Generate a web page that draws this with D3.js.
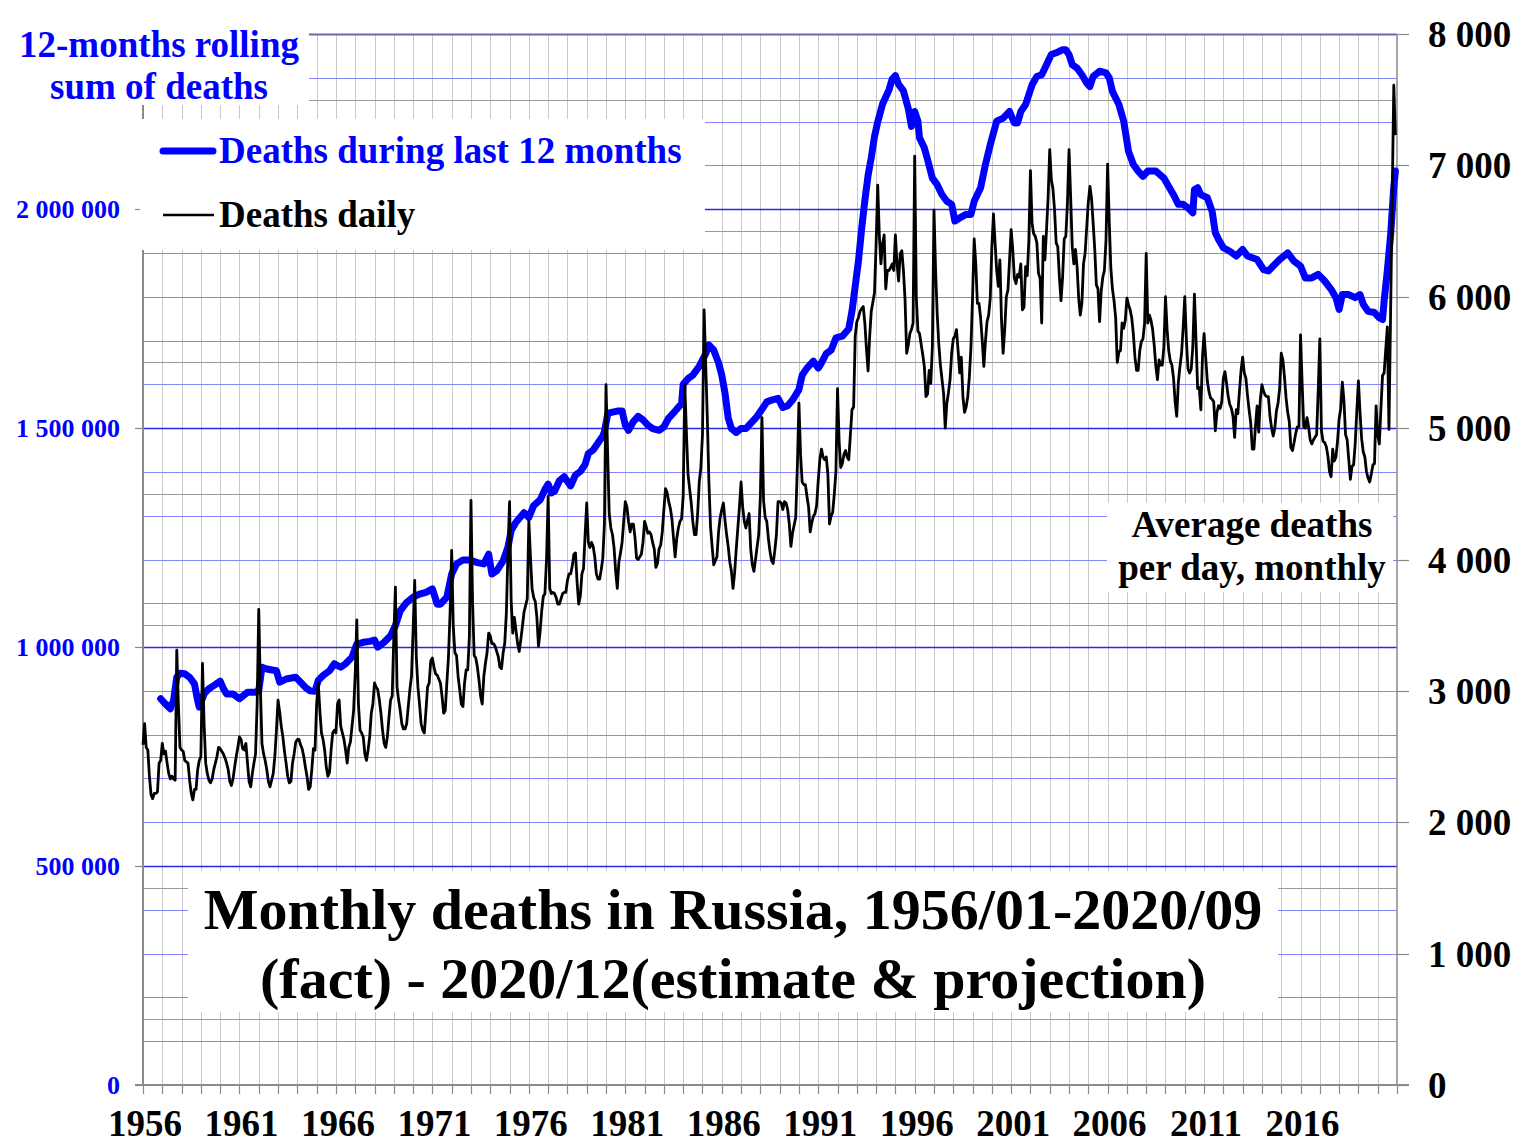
<!DOCTYPE html>
<html><head><meta charset="utf-8">
<script src="https://cdn.jsdelivr.net/npm/d3@7"></script>
<style>
body{margin:0;background:#fff}
svg{display:block}
text{font-family:"Liberation Serif","Times New Roman",serif;font-weight:bold}
</style>
</head><body>
<svg id="chart" width="1517" height="1145"></svg>
<script>
// ---- tick labels ----
const yearLabels = ["1956","1961","1966","1971","1976","1981","1986","1991","1996","2001","2006","2011","2016"];
const leftTicks = [0, 500000, 1000000, 1500000, 2000000];
const rightTicks = [0, 1000, 2000, 3000, 4000, 5000, 6000, 7000, 8000];

// ---- average deaths per day, monthly (one row = one year, Jan..Dec) ----
const daily1956_1965 = [
 2590,2750,2570,2550,2350,2210,2180,2220,2220,2230,2450,2470,
 2600,2520,2540,2450,2370,2330,2350,2330,2320,3310,2900,2570,
 2550,2540,2470,2460,2450,2320,2220,2170,2250,2250,2400,2470,
 2500,3210,2750,2450,2370,2320,2300,2330,2400,2450,2500,2570,
 2560,2540,2520,2490,2450,2400,2310,2280,2330,2420,2500,2570,
 2650,2630,2560,2550,2600,2450,2310,2270,2370,2450,2520,2900,
 3620,3030,2600,2520,2470,2400,2310,2270,2320,2370,2500,2700,
 2930,2840,2730,2650,2540,2450,2350,2300,2310,2450,2520,2610,
 2630,2630,2590,2560,2500,2420,2350,2250,2270,2400,2560,2550,
 2900,3060,2850,2680,2630,2550,2420,2350,2380,2550,2680,2700];
const daily1966_1975 = [
 2680,2900,2930,2730,2680,2630,2550,2450,2570,2610,2730,2850,
 3130,3540,2900,2700,2680,2650,2520,2470,2550,2650,2830,2900,
 3060,3030,3010,2930,2830,2700,2600,2570,2650,2800,2930,2960,
 3410,3790,3030,2930,2850,2750,2710,2710,2750,2880,3010,3110,
 3460,3840,3260,3030,2900,2750,2700,2680,2850,3030,3060,3230,
 3250,3180,3130,3120,3090,3060,2960,2830,2850,3060,3260,3590,
 4070,3490,3290,3270,3110,3010,2900,2880,3060,3160,3160,3410,
 4450,3670,3270,3250,3180,3080,2960,2900,3110,3210,3290,3440,
 3420,3360,3360,3340,3300,3260,3180,3170,3290,3360,3590,4050,
 4440,3690,3440,3560,3460,3360,3300,3390,3490,3600,3650,3700];
const daily1976_1985 = [
 4290,4020,3780,3710,3680,3560,3340,3450,3610,3720,3740,4000,
 4480,3780,3740,3750,3740,3710,3660,3660,3700,3740,3750,3750,
 3840,3890,3890,3950,4040,4050,3830,3660,3720,3890,3930,4190,
 4430,4130,4090,4130,4100,4020,3890,3850,3850,3920,4010,4270,
 5330,4810,4350,4240,4190,4090,3910,3780,3980,4050,4130,4290,
 4440,4400,4290,4210,4270,4270,4170,4010,4000,4020,4040,4130,
 4290,4250,4200,4210,4190,4130,4080,3940,3970,4080,4110,4210,
 4380,4540,4510,4440,4390,4310,4160,4020,4160,4240,4290,4310,
 4480,5330,4970,4650,4540,4430,4290,4190,4190,4350,4590,4700,
 4950,5900,5490,5080,4590,4250,4100,3960,3990,4020,4210,4320];
const daily1986_1995 = [
 4380,4430,4300,4190,4100,3980,3910,3780,3900,4080,4240,4400,
 4590,4400,4290,4240,4300,4350,4080,3960,3910,4000,4100,4190,
 4480,5080,4450,4320,4290,4160,4060,3990,3970,4070,4190,4440,
 4440,4430,4380,4440,4430,4380,4270,4100,4200,4260,4320,4700,
 5190,4800,4590,4570,4570,4480,4400,4210,4280,4330,4350,4410,
 4600,4760,4840,4780,4760,4780,4650,4270,4330,4360,4500,4670,
 5300,4900,4700,4730,4800,4830,4780,4760,4950,5140,5160,5700,
 5810,5840,5890,5910,5925,5800,5600,5435,5700,5890,5960,6030,
 6400,6850,6470,6250,6400,6470,6060,6200,6200,6220,6250,6200,
 6470,6250,6120,6330,6350,6200,5980,5570,5630,5720,5750,5800];
const daily1996_2005 = [
 7070,6000,5740,5720,5640,5560,5470,5240,5260,5440,5340,5620,
 6660,6200,5870,5640,5480,5370,5260,5000,5190,5270,5370,5570,
 5680,5700,5750,5590,5420,5540,5240,5120,5160,5240,5390,5620,
 6000,6440,6250,5950,5950,5840,5670,5470,5660,5810,5860,5990,
 6380,6630,6410,6200,6080,6280,5820,5570,5750,6000,6050,6280,
 6510,6360,6140,6100,6170,6150,6250,5900,5920,6230,6160,6430,
 6960,6560,6480,6460,6410,6180,6140,5800,6460,6280,6510,6760,
 7120,6890,6820,6660,6410,6380,6150,5970,6150,6440,6460,6710,
 7120,6760,6380,6250,6360,6230,5990,5860,5950,6250,6330,6530,
 6720,6840,6750,6560,6360,6090,6060,5810,6040,6150,6200,6430];
const daily2006_2015 = [
 7010,6580,6220,6060,5970,5840,5500,5580,5590,5800,5760,5820,
 5990,5940,5900,5840,5720,5540,5440,5440,5590,5660,5680,5800,
 6330,5800,5860,5820,5750,5630,5470,5370,5520,5480,5480,5620,
 6000,5750,5590,5510,5480,5380,5200,5090,5350,5470,5570,5770,
 6000,5670,5450,5420,5450,5620,6020,5670,5300,5310,5140,5540,
 5720,5540,5360,5280,5230,5220,5200,4980,5120,5170,5150,5200,
 5380,5430,5340,5240,5180,5150,5090,4930,5140,5110,5280,5440,
 5540,5420,5380,5250,5140,5040,4840,4840,5020,5170,4970,5220,
 5330,5280,5250,5240,5240,5090,5000,4940,5000,5130,5190,5300,
 5570,5520,5390,5230,5120,5050,4850,4830,4890,4960,5010,5010];
const daily2016_2020 = [
 5710,5340,5010,5000,5080,5010,4910,4880,4910,4930,4950,5290,
 5680,4980,4900,4890,4860,4790,4670,4630,4840,4750,4780,4900,
 5070,5150,5350,5210,4950,4910,4760,4610,4710,4720,4880,5130,
 5360,5120,4920,4820,4780,4670,4620,4590,4650,4720,4730,5170,
 4950,4880,5150,5400,5420,5600,5770,4990,5860,6740,7610,7230];

// ---- 12-month rolling sum of deaths (thousands), read at these months ----
const rollMonths = [
 "1956-12","1957-03","1957-06","1957-08","1957-10","1957-12","1958-03","1958-06","1958-09","1958-11","1958-12",
 "1959-03","1959-06","1959-09","1960-01","1960-03","1960-05","1960-09","1961-01","1961-06","1961-11",
 "1962-01","1962-03","1962-06","1962-12","1963-02","1963-06","1963-12","1964-03","1964-06","1964-09","1964-12",
 "1965-02","1965-05","1965-09","1965-12","1966-04","1966-07","1966-11","1967-02","1967-06","1967-10",
 "1968-01","1968-03","1968-07","1968-11","1969-02","1969-05","1969-09","1970-01","1970-05","1970-09",
 "1971-01","1971-04","1971-06","1971-10","1972-01","1972-04","1972-08","1972-12","1973-05","1973-09","1973-12",
 "1974-02","1974-05","1974-09","1974-12","1975-02","1975-05","1975-10","1976-01","1976-04","1976-08","1976-11",
 "1977-01","1977-03","1977-05","1977-08","1977-11","1978-03","1978-06","1978-09","1978-12",
 "1979-02","1979-05","1979-08","1979-11","1979-12","1980-02","1980-03","1980-08","1980-11",
 "1981-01","1981-03","1981-06","1981-09","1981-12","1982-03","1982-06","1982-10",
 "1983-01","1983-04","1983-08","1983-12","1984-01","1984-04","1984-07","1984-11",
 "1985-03","1985-05","1985-08","1985-11","1986-01","1986-03","1986-05","1986-07","1986-10",
 "1987-01","1987-04","1987-08","1987-11","1988-02","1988-05","1988-08","1988-12",
 "1989-03","1989-06","1989-09","1990-01","1990-03","1990-06","1990-10",
 "1991-01","1991-03","1991-06","1991-09","1991-12","1992-04","1992-08","1992-10","1992-12",
 "1993-02","1993-04","1993-06","1993-08","1993-10","1993-12","1994-02","1994-05","1994-09","1994-11",
 "1995-01","1995-03","1995-06","1995-09","1995-11","1996-01","1996-03","1996-04","1996-07","1996-09","1996-12",
 "1997-03","1997-06","1997-09","1997-12","1998-02","1998-05","1998-09","1998-12",
 "1999-02","1999-06","1999-09","1999-12","2000-04","2000-08","2000-12",
 "2001-03","2001-05","2001-07","2001-10","2002-02","2002-05","2002-08","2002-11",
 "2003-02","2003-05","2003-09","2003-11","2004-01","2004-03","2004-06","2004-09","2004-12",
 "2005-02","2005-04","2005-08","2005-12","2006-02","2006-04","2006-08","2006-11",
 "2007-02","2007-05","2007-08","2007-11","2008-02","2008-07","2008-12",
 "2009-03","2009-06","2009-09","2009-12","2010-03","2010-06","2010-07","2010-09","2010-11",
 "2011-03","2011-06","2011-08","2011-10","2012-01","2012-05","2012-09",
 "2013-01","2013-04","2013-10","2014-02","2014-05","2014-08","2014-12",
 "2015-05","2015-09","2016-01","2016-04","2016-08","2016-12",
 "2017-04","2017-08","2017-11","2018-01","2018-03","2018-07","2018-11",
 "2019-02","2019-04","2019-07","2019-11","2020-02","2020-04","2020-05","2020-07","2020-09","2020-11","2020-12"];
const rollSumThousands = [
 882,870,859,878,931,940,939,931,916,878,863,
 893,905,912,922,905,893,893,882,897,897,
 901,954,950,946,920,927,931,920,908,900,899,
 924,935,946,962,954,962,977,1007,1011,1013,
 1016,1000,1011,1026,1049,1083,1102,1114,1121,1125,
 1133,1098,1098,1114,1167,1190,1199,1199,1193,1190,1212,
 1167,1174,1197,1228,1266,1285,1307,1296,1323,1336,1360,
 1372,1352,1356,1380,1389,1368,1393,1401,1417,
 1442,1450,1466,1482,1492,1531,1535,1539,1539,
 1507,1495,1515,1527,1519,1507,1499,1495,
 1503,1523,1539,1556,1600,1613,1621,1641,
 1670,1690,1678,1649,1621,1580,1523,1499,1490,
 1499,1499,1515,1527,1543,1560,1564,1568,
 1547,1551,1564,1588,1621,1637,1653,
 1637,1649,1670,1678,1706,1710,1727,1767,1824,
 1881,1955,2020,2077,2118,2166,2199,2240,2272,2297,
 2305,2285,2270,2230,2189,2223,2201,2163,2140,2113,2071,
 2056,2033,2018,2011,1973,1980,1988,1988,
 2018,2049,2102,2147,2201,2208,2223,
 2197,2197,2223,2239,2284,2303,2307,2330,
 2353,2357,2364,2364,2353,2330,2322,2307,2288,
 2280,2303,2315,2311,2300,2269,2239,2201,
 2132,2102,2087,2075,2087,2087,2071,
 2052,2033,2011,2011,2003,1992,2045,2049,2033,
 2026,1995,1946,1931,1912,1904,1893,
 1908,1893,1885,1862,1859,1870,1885,
 1900,1881,1870,1843,1843,1851,
 1836,1817,1798,1771,1805,1805,1798,
 1805,1783,1767,1764,1752,1748,1790,1860,1940,2050,2087];

// ---- build ----
const daily = [].concat(daily1956_1965, daily1966_1975, daily1976_1985,
  daily1986_1995, daily1996_2005, daily2006_2015, daily2016_2020);
const monthIdx = s => { const [y, m] = s.split("-").map(Number); return (y - 1956) * 12 + (m - 1); };
const dailyPts = daily.map((v, i) => ({ i, v }));
const rollPts = rollMonths.map((s, k) => ({ i: monthIdx(s), v: rollSumThousands[k] * 1000 }));

const svg = d3.select("#chart");
const L = 143, R = 1397, T = 34, B = 1085;
const x = d3.scaleLinear().domain([0, 780]).range([L, R]);
const yL = d3.scaleLinear().domain([0, 2400000]).range([B, T]);
const yR = d3.scaleLinear().domain([0, 8000]).range([B, T]);
const px = v => Math.round(v) + 0.5;
const fmt = v => d3.format(",")(v).replace(/,/g, " ");

const grid = svg.append("g");
// vertical yearly gridlines
grid.selectAll(null).data(d3.range(12, 780, 12)).join("line")
  .attr("x1", d => px(x(d))).attr("x2", d => px(x(d)))
  .attr("y1", T).attr("y2", B)
  .attr("stroke", "#c8c8c8").attr("stroke-width", 1);
// right-axis gray gridlines (every 500)
grid.selectAll(null).data(d3.range(500, 8000, 500)).join("line")
  .attr("x1", L).attr("x2", R)
  .attr("y1", d => px(yR(d))).attr("y2", d => px(yR(d)))
  .attr("stroke", "#9a9a9a").attr("stroke-width", 1.2);
// left-axis blue gridlines (every 100 000)
grid.selectAll(null).data(d3.range(100000, 2400000, 100000)).join("line")
  .attr("x1", L).attr("x2", R)
  .attr("y1", d => px(yL(d))).attr("y2", d => px(yL(d)))
  .attr("stroke", d => d % 500000 === 0 ? "#2a2ae6" : "#8585ff")
  .attr("stroke-width", d => d % 500000 === 0 ? 1.6 : 1);
// top border
grid.append("line").attr("x1", L).attr("x2", R).attr("y1", px(yL(2400000))).attr("y2", px(yL(2400000)))
  .attr("stroke", "#6868b0").attr("stroke-width", 2);

// axes frame
const ax = svg.append("g").attr("stroke", "#8a8a8a");
ax.append("line").attr("x1", L).attr("x2", L).attr("y1", T).attr("y2", B).attr("stroke-width", 2);
ax.append("line").attr("x1", R).attr("x2", R).attr("y1", T).attr("y2", B).attr("stroke-width", 1.5);
ax.append("line").attr("x1", L - 8).attr("x2", R + 12).attr("y1", B).attr("y2", B).attr("stroke-width", 2);
ax.selectAll(null).data(d3.range(0, 781, 12)).join("line")
  .attr("x1", d => px(x(d))).attr("x2", d => px(x(d))).attr("y1", B).attr("y2", B + 9).attr("stroke-width", 1.2);
ax.selectAll(null).data(leftTicks).join("line")
  .attr("x1", L - 8).attr("x2", L).attr("y1", d => px(yL(d))).attr("y2", d => px(yL(d))).attr("stroke-width", 1.2);
ax.selectAll(null).data(rightTicks).join("line")
  .attr("x1", R).attr("x2", R + 12).attr("y1", d => px(yR(d))).attr("y2", d => px(yR(d))).attr("stroke-width", 1.2);

// white label boxes
const boxes = [[0, 0, 309, 105], [140, 119, 565, 131], [188, 871, 1090, 141], [1107, 503, 286, 89]];
svg.append("g").selectAll(null).data(boxes).join("rect")
  .attr("x", d => d[0]).attr("y", d => d[1]).attr("width", d => d[2]).attr("height", d => d[3])
  .attr("fill", "#fff");

// axis labels
svg.append("g").selectAll(null).data(leftTicks).join("text")
  .attr("x", 120).attr("y", d => yL(d) + 9).attr("text-anchor", "end")
  .attr("font-size", 26).attr("fill", "#0000ff").text(fmt);
svg.append("g").selectAll(null).data(rightTicks).join("text")
  .attr("x", 1428).attr("y", d => yR(d) + 13)
  .attr("font-size", 37).attr("fill", "#000").text(fmt);
svg.append("g").selectAll(null).data(yearLabels).join("text")
  .attr("x", d => x((+d - 1956) * 12) + 2).attr("y", 1136).attr("text-anchor", "middle")
  .attr("font-size", 37).attr("fill", "#000").text(d => d);

// data lines
svg.append("path").datum(rollPts)
  .attr("d", d3.line().x(d => x(d.i)).y(d => yL(d.v)))
  .attr("fill", "none").attr("stroke", "#0000ff").attr("stroke-width", 7)
  .attr("stroke-linejoin", "round").attr("stroke-linecap", "round");
svg.append("path").datum(dailyPts)
  .attr("d", d3.line().x(d => x(d.i)).y(d => yR(d.v)))
  .attr("fill", "none").attr("stroke", "#000").attr("stroke-width", 2.8)
  .attr("stroke-linejoin", "round");

// titles & legend
const t = svg.append("g");
t.append("text").attr("x", 159).attr("y", 57).attr("text-anchor", "middle").attr("font-size", 37).attr("fill", "#0000ff").text("12-months rolling");
t.append("text").attr("x", 159).attr("y", 99).attr("text-anchor", "middle").attr("font-size", 37).attr("fill", "#0000ff").text("sum of deaths");
t.append("line").attr("x1", 163).attr("x2", 213).attr("y1", 151).attr("y2", 151).attr("stroke", "#0000ff").attr("stroke-width", 7).attr("stroke-linecap", "round");
t.append("text").attr("x", 219).attr("y", 163).attr("font-size", 37).attr("fill", "#0000ff").text("Deaths during last 12 months");
t.append("line").attr("x1", 163).attr("x2", 214).attr("y1", 215).attr("y2", 215).attr("stroke", "#000").attr("stroke-width", 2.5);
t.append("text").attr("x", 219).attr("y", 227).attr("font-size", 37).attr("fill", "#000").text("Deaths daily");
t.append("text").attr("x", 1252).attr("y", 537).attr("text-anchor", "middle").attr("font-size", 37).attr("fill", "#000").text("Average deaths");
t.append("text").attr("x", 1252).attr("y", 580).attr("text-anchor", "middle").attr("font-size", 37).attr("fill", "#000").text("per day, monthly");
t.append("text").attr("x", 733).attr("y", 929).attr("text-anchor", "middle").attr("font-size", 58).attr("fill", "#000").text("Monthly deaths in Russia, 1956/01-2020/09");
t.append("text").attr("x", 733).attr("y", 998).attr("text-anchor", "middle").attr("font-size", 58).attr("fill", "#000").text("(fact) - 2020/12(estimate & projection)");
</script>
</body></html>
